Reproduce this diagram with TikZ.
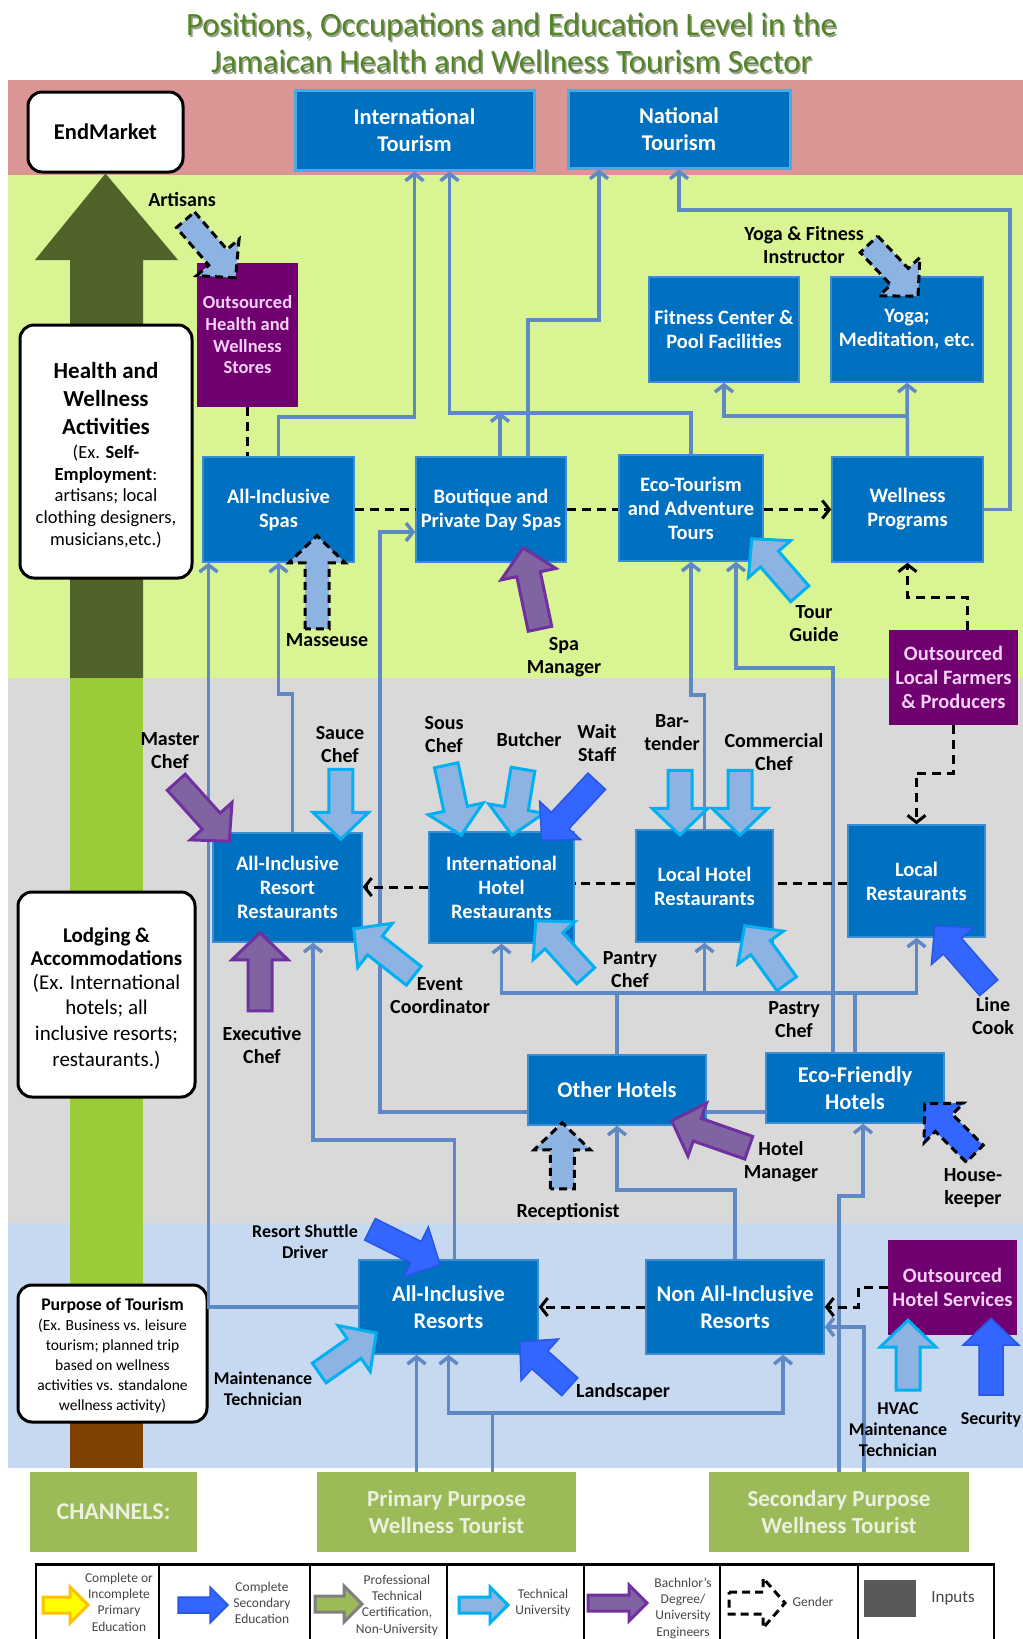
\documentclass[tikz,border=0pt]{standalone}
\usepackage{fontspec}
\setmainfont{Carlito}
\usetikzlibrary{positioning,calc,arrows.meta}

\definecolor{pinkband}{RGB}{218,150,148}
\definecolor{greenband}{RGB}{217,244,146}
\definecolor{grayband}{RGB}{217,217,217}
\definecolor{blueband}{RGB}{198,217,240}
\definecolor{unitblue}{RGB}{0,112,192}
\definecolor{unitedge}{RGB}{60,140,210}
\definecolor{tourismedge}{RGB}{75,170,225}
\definecolor{outpurple}{RGB}{112,0,112}
\definecolor{outtext}{RGB}{246,208,246}
\definecolor{chanfill}{RGB}{155,187,89}
\definecolor{chantext}{RGB}{235,241,222}
\definecolor{flowcol}{RGB}{95,137,196}
\definecolor{titlegreen}{RGB}{84,132,40}
\definecolor{titleshadow}{RGB}{150,160,140}
\definecolor{darkolive}{RGB}{79,98,40}
\definecolor{shaftgreen}{RGB}{155,203,56}
\definecolor{shaftbrown}{RGB}{128,64,0}
\definecolor{techfill}{RGB}{141,179,226}
\definecolor{techedge}{RGB}{0,176,240}
\definecolor{bachfill}{RGB}{128,100,162}
\definecolor{bachedge}{RGB}{112,48,160}
\definecolor{secfill}{RGB}{51,102,255}
\definecolor{secedge}{RGB}{40,85,230}
\definecolor{primfill}{RGB}{255,255,0}
\definecolor{primedge}{RGB}{255,192,0}
\definecolor{profedge}{RGB}{127,127,127}
\definecolor{legtext}{RGB}{70,70,70}
\definecolor{inputgray}{RGB}{89,89,89}

\newcommand{\titletxt}{\fontsize{32.5}{37}\selectfont}
\newcommand{\boxtxt}{\fontsize{20.5}{24}\selectfont\bfseries}
\newcommand{\bigboxtxt}{\fontsize{22.5}{27.5}\selectfont\bfseries}
\newcommand{\storetxt}{\fontsize{18.5}{21.7}\selectfont\bfseries}
\newcommand{\chantxt}{\fontsize{23}{27}\selectfont\bfseries}
\newcommand{\jobtxt}{\fontsize{20}{23}\selectfont\bfseries}
\newcommand{\smalljobtxt}{\fontsize{18}{21}\selectfont\bfseries}
\newcommand{\legtxt}{\fontsize{13.5}{16.3}\selectfont}
\newcommand{\asw}{12pt}
\newcommand{\ahw}{28pt}
\newcommand{\ahl}{27pt}
\newcommand{\jobarrow}[3]{%
  \coordinate (ja-t) at ($(#2)+(#3)$);
  \coordinate (ja-h) at ($(#2)!\ahl!(ja-t)$);
  \draw[#1] ($(ja-t)!\asw!90:(#2)$) -- ($(ja-h)!\asw!-90:(ja-t)$) -- ($(ja-h)!\ahw!-90:(ja-t)$)
    -- (#2) -- ($(ja-h)!\ahw!90:(ja-t)$) -- ($(ja-h)!\asw!90:(ja-t)$) -- ($(ja-t)!\asw!-90:(#2)$) -- cycle;}

\tikzset{
  unit/.style={draw=unitedge, line width=1.5pt, fill=unitblue, text=white, font=\boxtxt, align=center, inner sep=2pt},
  outsrc/.style={fill=outpurple, text=outtext, font=\boxtxt, align=center, inner sep=2pt},
  chan/.style={fill=chanfill, text=chantext, font=\chantxt, align=center},
  sidebox/.style={draw=black, line width=3pt, fill=white, rounded corners=14pt, align=center},
  job/.style={font=\jobtxt, align=center},
  smalljob/.style={font=\smalljobtxt, align=center},
  legend/.style={font=\legtxt, text=legtext, align=center},
  flow/.style={draw=flowcol, line width=3.5pt, -{Straight Barb[length=7pt,width=18pt]}},
  flowline/.style={draw=flowcol, line width=3.5pt},
  dashline/.style={draw=black, line width=3pt, dash pattern=on 9pt off 6pt},
  dasharrow/.style={dashline, -{Straight Barb[length=7pt,width=18pt]}},
  tech/.style={fill=techfill, draw=techedge, line width=3pt},
  bach/.style={fill=bachfill, draw=bachedge, line width=3pt},
  second/.style={fill=secfill, draw=secedge, line width=1.5pt},
  prim/.style={fill=primfill, draw=primedge, line width=3pt},
  prof/.style={fill=chanfill, draw=profedge, line width=3pt},
  gender/.style={fill=techfill, draw=black, line width=3pt, dash pattern=on 8pt off 5pt},
  gendersec/.style={gender, fill=secfill}
}

\begin{document}
\begin{tikzpicture}[x=1pt, y=-1pt]
\useasboundingbox (0,0) rectangle (1023,1639);
\fill[pinkband] (8,80) rectangle (1023,175);
\fill[greenband] (8,175) rectangle (1023,678);
\fill[grayband] (8,678) rectangle (1023,1223);
\fill[blueband] (8,1223) rectangle (1023,1468);

\node[font=\titletxt, text=titleshadow, align=center] (titleshade) at (513,44.5)
  {Positions, Occupations and Education Level in the\\Jamaican Health and Wellness Tourism Sector};
\node[font=\titletxt, text=titlegreen, align=center] (title) at (511.5,43)
  {Positions, Occupations and Education Level in the\\Jamaican Health and Wellness Tourism Sector};

\node[sidebox, minimum width=155, minimum height=80, font=\bigboxtxt] (endmarket) at (105.5,132) {EndMarket};
\fill[darkolive] (70,678) -- (70,260) -- (35,260) -- (endmarket.south) -- (178,260) -- (143,260) -- (143,678) -- cycle;
\fill[shaftgreen] (70,678) rectangle (143,1350);
\fill[shaftbrown] (70,1350) rectangle (143,1468);

\node[sidebox, minimum width=172, minimum height=253] (hwa) at (106,451.5) {};
\node[font=\fontsize{23}{28}\selectfont\bfseries, align=center] (hwahead) at (106,399) {Health and\\Wellness\\Activities};
\node[font=\fontsize{18.5}{21.8}\selectfont, align=center] (hwatext) at (106,496.5)
  {(Ex. \textbf{Self-}\\\textbf{Employment}:\\artisans; local\\clothing designers,\\musicians,etc.)};
\node[sidebox, minimum width=177, minimum height=205] (lodging) at (106.5,994.5) {};
\node[font=\fontsize{21}{23.5}\selectfont\bfseries, align=center] (lodginghead) at (106.5,946.5) {Lodging \&\\Accommodations};
\node[font=\fontsize{21}{25.6}\selectfont, align=center] (lodgingtext) at (106.5,1021.5)
  {(Ex. International\\hotels; all\\inclusive resorts;\\restaurants.)};
\node[sidebox, minimum width=189, minimum height=137] (purpose) at (112.5,1353.5) {};
\node[font=\fontsize{17.8}{20}\selectfont\bfseries] (purposehead) at (112.5,1306) {Purpose of Tourism};
\node[font=\fontsize{15.5}{20}\selectfont, align=center] (purposetext) at (112.5,1366)
  {(Ex. Business vs. leisure\\tourism; planned trip\\based on wellness\\activities vs. standalone\\wellness activity)};

\node[unit, font=\bigboxtxt, draw=tourismedge, line width=3pt, minimum width=239, minimum height=80] (intl) at (414.5,130) {International\\Tourism};
\node[unit, font=\bigboxtxt, draw=tourismedge, line width=3pt, minimum width=222, minimum height=78] (natl) at (679,129) {National\\Tourism};
\node[outsrc, font=\storetxt, minimum width=101, minimum height=144] (outstores) at (247.5,335) {Outsourced\\Health and\\Wellness\\Stores};
\node[unit, minimum width=150, minimum height=105] (fitness) at (724,329.5) {Fitness Center \&\\Pool Facilities};
\node[unit, minimum width=152, minimum height=105] (yoga) at (907,329.5) {Yoga;\\Meditation, etc.};
\node[unit, minimum width=151, minimum height=105] (aispas) at (278.5,509.5) {All-Inclusive\\Spas};
\node[unit, minimum width=150, minimum height=105] (boutique) at (491,509.5) {Boutique and\\Private Day Spas};
\node[unit, minimum width=144, minimum height=106] (eco) at (691,508) {Eco-Tourism\\and Adventure\\Tours};
\node[unit, minimum width=151, minimum height=105] (wellprog) at (907.5,509.5) {Wellness\\Programs};
\node[outsrc, minimum width=129, minimum height=95] (outfarm) at (953.5,677.5) {Outsourced\\Local Farmers\\\& Producers};
\node[unit, minimum width=149, minimum height=109] (airr) at (287.5,887.5) {All-Inclusive\\Resort\\Restaurants};
\node[unit, minimum width=145, minimum height=111] (ihr) at (501.5,887.5) {International\\Hotel\\Restaurants};
\node[unit, minimum width=137, minimum height=112] (lhr) at (704.5,886) {Local Hotel\\Restaurants};
\node[unit, minimum width=137, minimum height=112] (localrest) at (916.5,881) {Local\\Restaurants};
\node[unit, font=\bigboxtxt, minimum width=178, minimum height=70] (otherhotels) at (617,1090) {Other Hotels};
\node[unit, font=\bigboxtxt, minimum width=178, minimum height=70] (ecohotels) at (855,1088) {Eco-Friendly\\Hotels};
\node[unit, font=\bigboxtxt, minimum width=179, minimum height=94] (airesorts) at (448.5,1307) {All-Inclusive\\Resorts};
\node[unit, font=\bigboxtxt, minimum width=178, minimum height=94] (nonai) at (735,1307) {Non All-Inclusive\\Resorts};
\node[outsrc, minimum width=129, minimum height=95] (outhotel) at (952.5,1287.5) {Outsourced\\Hotel Services};
\node[chan, font=\fontsize{24}{28}\selectfont\bfseries, minimum width=167, minimum height=80] (channels) at (113.5,1512) {CHANNELS:};
\node[chan, minimum width=259, minimum height=80] (primary) at (446.5,1512) {Primary Purpose\\Wellness Tourist};
\node[chan, minimum width=260, minimum height=80] (secondary) at (839,1512) {Secondary Purpose\\Wellness Tourist};

\draw[flow] (aispas.north) |- (intl.south |- 0,417) -- (intl.south);
\draw[flow] (eco.north) |- (449.5,413) -- ([xshift=35pt]intl.south);
\draw[flow] ([xshift=9pt]boutique.north) -- ++(0,-44);
\draw[flow] ([xshift=37pt]boutique.north) |- (599,320) -- ([xshift=-80pt]natl.south);
\draw[flow] (wellprog.east) -| (1010,210) -| (natl.south);
\draw[flow] (wellprog.north) -- (yoga.south);
\draw[flow] (wellprog.north |- 0,416) -| (fitness.south);
\draw[flow] (otherhotels.south west |- 0,1112) -| (380,532) -- (boutique.west |- 0,532);
\draw[flowline] (ecohotels.west |- 0,1112) -- (otherhotels.east |- 0,1112);
\draw[flow] (airesorts.west) -| ([xshift=-70pt]aispas.south);
\draw[flow] ([xshift=5pt]airr.north) |- (aispas.south |- 0,694) -- (aispas.south);
\draw[flow] ([xshift=6pt]airesorts.north) |- (313,1140) -- ([xshift=25.5pt]airr.south);
\draw[flow] (otherhotels.north) |- (ihr.south |- 0,993) -- (ihr.south);
\draw[flow] (otherhotels.north |- 0,993) -| (lhr.south);
\draw[flow] (ecohotels.north) |- (localrest.south |- 0,993) -- (localrest.south);
\draw[flowline] (lhr.south |- 0,993) -- (ecohotels.north |- 0,993);
\draw[flow] ([xshift=-22pt]ecohotels.north) |- (736,668) -- ([xshift=45pt]eco.south);
\draw[flow] (lhr.north) |- (eco.south |- 0,695) -- (eco.south);
\draw[flow] (nonai.north) |- (otherhotels.south |- 0,1190) -- (otherhotels.south);
\draw[flow] (secondary.north) |- (863,1196) -- ([xshift=8pt]ecohotels.south);
\draw[flow] ([xshift=25pt]secondary.north) |- (nonai.east |- 0,1327);
\draw[flow] ([xshift=-30pt]primary.north) -- ([xshift=-32pt]airesorts.south);
\draw[flow] ([xshift=46pt]primary.north) |- (airesorts.south |- 0,1413) -- (airesorts.south);
\draw[flow] (airesorts.south |- 0,1413) -| ([xshift=48pt]nonai.south);

\draw[dashline] (outstores.south) -- (aispas.north -| outstores.south);
\draw[dashline] (aispas.east) -- (boutique.west);
\draw[dashline] (boutique.east) -- (eco.west |- boutique.east);
\draw[dasharrow] (eco.east |- wellprog.west) -- (wellprog.west);
\draw[dasharrow] ([xshift=14pt]outfarm.north) |- (wellprog.south |- 0,597) -- (wellprog.south);
\draw[dasharrow] (outfarm.south) |- (localrest.north |- 0,773) -- (localrest.north);
\draw[dashline] (localrest.west |- 0,883) -- (lhr.east |- 0,883);
\draw[dashline] (lhr.west |- 0,883) -- (ihr.east |- 0,883);
\draw[dasharrow] (ihr.west |- 0,887) -- (airr.east |- 0,887);
\draw[dasharrow] (nonai.west) -- (airesorts.east);
\draw[dasharrow] (outhotel.west) -| (858,1307) -- (nonai.east);

\coordinate (art) at ($(outstores.north)+(-12,15)$);
\coordinate (yogi) at ($(yoga.north)+(11,20)$);
\coordinate (mass) at ($(aispas.south)+(38.5,-27)$);
\coordinate (spam) at ($(boutique.south)+(32,-15)$);
\coordinate (tour) at ($(eco.south east)+(-12,-23)$);
\coordinate (mchef) at ($(airr.north west)+(17,9)$);
\coordinate (sauce) at ($(airr.north east)+(-22,7)$);
\coordinate (sous) at ($(ihr.north west)+(33,4)$);
\coordinate (butch) at ($(ihr.north)+(10.5,4)$);
\coordinate (wait) at ($(ihr.north east)+(-33,9)$);
\coordinate (bart) at ($(lhr.north)+(-24.5,6)$);
\coordinate (comm) at ($(lhr.north)+(35.5,6)$);
\coordinate (exec) at ($(airr.south)+(-27.5,-10)$);
\coordinate (event) at ($(airr.south east)+(-9,-14)$);
\coordinate (pantry) at ($(ihr.south east)+(-39,-23)$);
\coordinate (pastry) at ($(lhr.south east)+(-29,-17)$);
\coordinate (linec) at ($(localrest.south east)+(-51,-12)$);
\coordinate (hman) at ($(otherhotels.south east)+(-35,-5)$);
\coordinate (house) at ($(ecohotels.south east)+(-20,-20)$);
\coordinate (recep) at ($(otherhotels.south west)+(35,-3)$);
\coordinate (shuttle) at ($(airesorts.north)+(-8.5,5)$);
\coordinate (maint) at ($(airesorts.west)+(18,26)$);
\coordinate (land) at ($(airesorts.south east)+(-19,-13)$);
\coordinate (hvac) at ($(outhotel.south)+(-44.5,-15)$);
\coordinate (secur) at ($(outhotel.south)+(38.5,-17)$);

\jobarrow{gender}{art}{-50,-58}
\jobarrow{gender}{yogi}{-49,-52}
\jobarrow{gender}{mass}{0,93}
\jobarrow{bach}{spam}{17,81}
\jobarrow{tech}{tour}{48,55}
\jobarrow{bach}{mchef}{-53,-59}
\jobarrow{tech}{sauce}{0,-70}
\jobarrow{tech}{sous}{-15,-70}
\jobarrow{tech}{butch}{11,-66}
\jobarrow{second}{wait}{55,-59}
\jobarrow{tech}{bart}{0,-65}
\jobarrow{tech}{comm}{0,-65}
\jobarrow{bach}{exec}{0,78}
\jobarrow{tech}{event}{60,47}
\jobarrow{tech}{pantry}{50,55}
\jobarrow{tech}{pastry}{42,58}
\jobarrow{second}{linec}{54,62}
\jobarrow{bach}{hman}{77,27}
\jobarrow{gendersec}{house}{50,50}
\jobarrow{gender}{recep}{0,66}
\jobarrow{second}{shuttle}{-70,-35}
\jobarrow{tech}{maint}{-57,40}
\jobarrow{second}{land}{50,45}
\jobarrow{tech}{hvac}{0,70}
\jobarrow{second}{secur}{0,77}

\node[job] (artisansL) at (182,200) {Artisans};
\node[job] (yogiL) at (804,245) {Yoga \& Fitness\\Instructor};
\node[job] (massL) at (327,640) {Masseuse};
\node[job] (spamL) at (564,657) {Spa\\Manager};
\node[job] (tourL) at (814,624) {Tour\\Guide};
\node[job] (mchefL) at (170,751) {Master\\Chef};
\node[job] (sauceL) at (340,745) {Sauce\\Chef};
\node[job] (sousL) at (444,735) {Sous\\Chef};
\node[job] (butchL) at (529,740) {Butcher};
\node[job] (waitL) at (597,743) {Wait\\Staff};
\node[job] (bartL) at (672,733) {Bar-\\tender};
\node[job] (commL) at (774,752) {Commercial\\Chef};
\node[job] (execL) at (262,1045) {Executive\\Chef};
\node[job] (eventL) at (440,996) {Event\\Coordinator};
\node[job] (pantryL) at (630,970) {Pantry\\Chef};
\node[job] (pastryL) at (794,1020) {Pastry\\Chef};
\node[job] (lineL) at (993,1016) {Line\\Cook};
\node[job] (hmanL) at (781,1162) {Hotel\\Manager};
\node[job] (houseL) at (973,1188) {House-\\keeper};
\node[job] (recepL) at (568,1212) {Receptionist};
\node[smalljob] (shuttleL) at (305,1242) {Resort Shuttle\\Driver};
\node[smalljob] (maintL) at (263,1389) {Maintenance\\Technician};
\node[job] (landL) at (623,1392) {Landscaper};
\node[smalljob] (hvacL) at (898,1430) {HVAC\\Maintenance\\Technician};
\node[smalljob] (securL) at (991,1420) {Security};

\draw[line width=1.5pt] (36,1564) rectangle (994,1650);
\draw[line width=3pt] (36,1564) -- (994,1564);
\foreach \x in {159,310,447,584,720,858}
  \draw[line width=1.5pt] (\x,1564) -- (\x,1650);
\begin{scope}
\renewcommand{\asw}{8pt}\renewcommand{\ahw}{18pt}\renewcommand{\ahl}{18pt}
\coordinate (lgprim) at (88,1605);
\coordinate (lgsec) at (228,1605);
\coordinate (lgprof) at (362,1604);
\coordinate (lgtech) at (508,1605);
\coordinate (lgbach) at (647,1603);
\jobarrow{prim}{lgprim}{-45,0}
\jobarrow{second}{lgsec}{-50,0}
\jobarrow{prof}{lgprof}{-47,0}
\jobarrow{tech}{lgtech}{-49,0}
\jobarrow{bach}{lgbach}{-59,0}
\renewcommand{\asw}{11pt}\renewcommand{\ahw}{25pt}\renewcommand{\ahl}{22pt}
\coordinate (lggen) at (785,1603);
\jobarrow{gender, fill=none}{lggen}{-56,0}
\end{scope}
\fill[inputgray] (864,1580) rectangle (916,1617);
\node[legend] (lg1t) at (119,1602) {Complete or\\Incomplete\\Primary\\Education};
\node[legend] (lg2t) at (262,1603) {Complete\\Secondary\\Education};
\node[legend] (lg3t) at (397,1605) {Professional\\Technical\\Certification,\\Non-University};
\node[legend] (lg4t) at (543,1603) {Technical\\University};
\node[legend] (lg5t) at (683,1608) {Bachnlor's\\Degree/\\University\\Engineers};
\node[legend] (lg6t) at (813,1602) {Gender};
\node[legend, font=\fontsize{17}{20}\selectfont] (lg7t) at (953,1598) {Inputs};
\end{tikzpicture}
\end{document}
